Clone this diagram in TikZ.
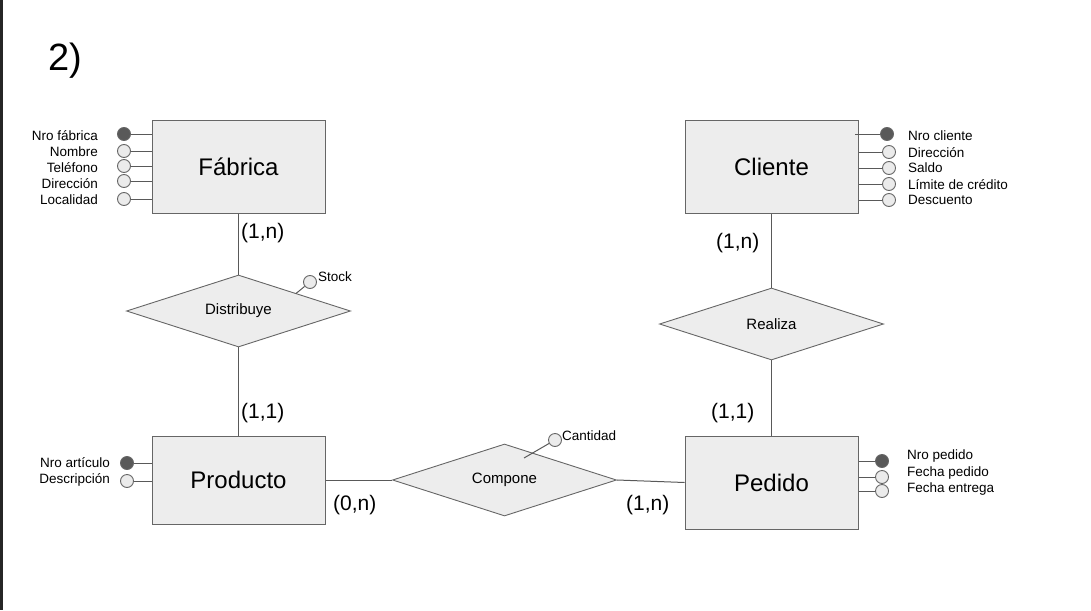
\documentclass[tikz,border=0pt]{standalone}
\usepackage{fontspec}
\setmainfont{Liberation Sans}
\usetikzlibrary{shapes.geometric}
\begin{document}
\begin{tikzpicture}[x=1pt,y=-1pt,
  entity/.style={draw=black!60,fill=black!7,line width=1pt,minimum width=173pt,inner sep=0pt,font=\fontsize{24}{28}\selectfont},
  rel/.style={diamond,shape aspect=3.1,draw=black!60,fill=black!7,line width=0.9pt,minimum width=224pt,minimum height=72pt,inner sep=0pt,font=\fontsize{15}{18}\selectfont},
  attr/.style={circle,draw=black!60,fill=black!8,line width=0.9pt,minimum size=13pt,inner sep=0pt},
  keyattr/.style={attr,fill=black!65},
  alab/.style={inner sep=0pt,font=\fontsize{13.5}{16}\selectfont},
  card/.style={inner sep=0pt,font=\fontsize{21}{24}\selectfont},
  link/.style={draw=black!65,line width=1pt}]
\useasboundingbox (0,0) rectangle (1091,610);
\fill[black!85] (0,0) rectangle (3,610);
\node[inner sep=0pt,anchor=west,font=\fontsize{38}{44}\selectfont] (title) at (48,61) {2)};

% entities
\node[entity,minimum height=93pt] (fab) at (238.5,166.5) {Fábrica};
\node[entity,minimum height=93pt] (cli) at (771.5,166.5) {Cliente};
\node[entity,minimum height=88pt] (pro) at (238.5,480) {Producto};
\node[entity,minimum height=93pt] (ped) at (771.5,482.5) {Pedido};

% relationships
\node[rel] (dist) at (238.5,311) {Distribuye};
\node[rel] (real) at (771.5,324) {Realiza};
\node[rel] (comp) at (504.5,480) {Compone};

% connectors
\draw[link] (fab.south) -- (dist.north);
\draw[link] (dist.south) -- (pro.north);
\draw[link] (cli.south) -- (real.north);
\draw[link] (real.south) -- (ped.north);
\draw[link] (pro.east) -- (comp.west);
\draw[link] (comp.east) -- (ped.west);

% cardinalities
\node[card,anchor=west] (c1) at (241,233) {(1,n)};
\node[card,anchor=west] (c2) at (241,413) {(1,1)};
\node[card,anchor=west] (c3) at (716,243) {(1,n)};
\node[card,anchor=west] (c4) at (711,413) {(1,1)};
\node[card,anchor=west] (c5) at (333,505) {(0,n)};
\node[card,anchor=west] (c6) at (626,505) {(1,n)};

% Fabrica attributes
\foreach \n/\y/\t/\ly/\s in {f1/134/Nro fábrica/136/keyattr,f2/151/Nombre/152/attr,f3/166/Teléfono/168/attr,f4/181/Dirección/184/attr,f5/199/Localidad/200/attr}{
  \node[\s] (\n) at (124,\y) {};
  \draw[link] (\n) -- (\n -| fab.west);
  \node[alab,anchor=east] (\n l) at (98,\ly) {\t};
}
% Cliente attributes
\node[keyattr] (k1) at (887,134) {};
\draw[link] (k1) -- (855,134);
\node[alab,anchor=west] (k1l) at (908,136) {Nro cliente};
\foreach \n/\y/\t/\ly in {k2/152/Dirección/153,k3/168/Saldo/168,k4/184/Límite de crédito/185,k5/200/Descuento/200}{
  \node[attr] (\n) at (889,\y) {};
  \draw[link] (\n) -- (\n -| cli.east);
  \node[alab,anchor=west] (\n l) at (908,\ly) {\t};
}
% Producto attributes
\foreach \n/\y/\t/\ly/\s in {p1/463/Nro artículo/463/keyattr,p2/481/Descripción/480/attr}{
  \node[\s] (\n) at (127,\y) {};
  \draw[link] (\n) -- (\n -| pro.west);
  \node[alab,anchor=east] (\n l) at (110,\ly) {\t};
}
% Pedido attributes
\foreach \n/\y/\t/\ly/\s in {d1/461/Nro pedido/456/keyattr,d2/477/Fecha pedido/473/attr,d3/491/Fecha entrega/489/attr}{
  \node[\s] (\n) at (882,\y) {};
  \draw[link] (\n) -- (\n -| ped.east);
  \node[alab,anchor=west] (\n l) at (907,\ly) {\t};
}
% relationship attributes
\node[attr] (stock) at (310,282) {};
\coordinate (stockfoot) at (296,293.5);
\draw[link] (stockfoot) -- (stock);
\node[alab,anchor=west] (stockl) at (318,277) {Stock};
\node[attr] (cant) at (555,440) {};
\coordinate (cantfoot) at (524,458);
\draw[link] (cantfoot) -- (cant);
\node[alab,anchor=west] (cantl) at (562,436) {Cantidad};
\end{tikzpicture}
\end{document}
